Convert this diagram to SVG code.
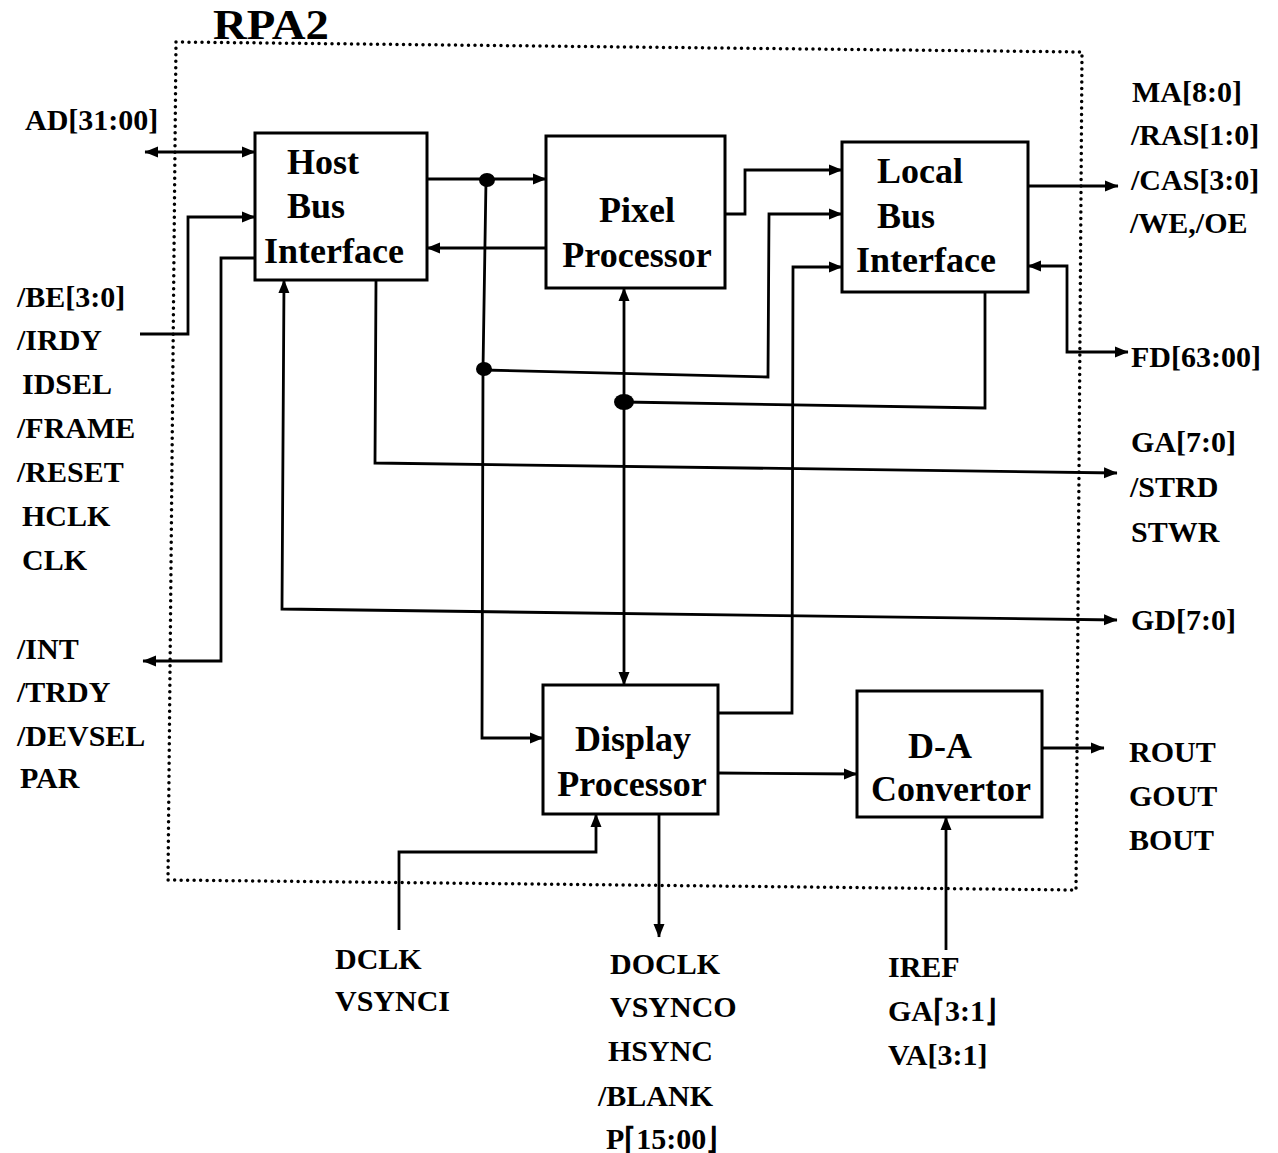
<svg xmlns="http://www.w3.org/2000/svg" width="1278" height="1153" viewBox="0 0 1278 1153">
<style>
text{font-family:"Liberation Serif","Times New Roman",serif;font-weight:bold;fill:#000}
.lbl{font-size:30px}
.box{fill:#fff;stroke:#000;stroke-width:3}
.bt{font-size:36px}
.w{fill:none;stroke:#000;stroke-width:2.8;stroke-linejoin:miter}
.dot{fill:#000}
</style>
<defs>
<marker id="ah" markerUnits="userSpaceOnUse" markerWidth="14" markerHeight="12" refX="13" refY="6" orient="auto-start-reverse" viewBox="0 0 14 12">
<path d="M0,0.5 L13.5,6 L0,11.5 z" fill="#000"/>
</marker>
</defs>
<rect width="1278" height="1153" fill="#fff"/>
<!-- chip boundary -->
<g id="boundary">
<polygon points="176,42 1082,52 1076,890 168,880" fill="none" stroke="#000" stroke-width="3.5" stroke-dasharray="0 6.5" stroke-linecap="round"/>
<text x="213" y="39" style="font-size:42px" textLength="116" lengthAdjust="spacingAndGlyphs">RPA2</text>
</g>
<!-- connectors -->
<g id="connectors">
<path class="w" d="M145,152 L255,152" marker-start="url(#ah)" marker-end="url(#ah)"/>
<path class="w" d="M140,334 L188,334 L188,217 L255,217" marker-end="url(#ah)"/>
<path class="w" d="M255,258 L221,258 L221,661 L143,661" marker-end="url(#ah)"/>
<path class="w" d="M427,179 L546,179" marker-end="url(#ah)"/>
<path class="w" d="M546,248 L427,248" marker-end="url(#ah)"/>
<path class="w" d="M486,180 L483,369 L482,738 L543,738" marker-end="url(#ah)"/>
<path class="w" d="M483,370 L768,377 L769,214 L842,214" marker-end="url(#ah)"/>
<path class="w" d="M725,214 L745,214 L745,170 L842,170" marker-end="url(#ah)"/>
<path class="w" d="M718,713 L792,713 L793,267 L842,267" marker-end="url(#ah)"/>
<path class="w" d="M985,292 L985,408 L624,402"/>
<path class="w" d="M624,288 L624,685" marker-start="url(#ah)" marker-end="url(#ah)"/>
<path class="w" d="M376,280 L375,463 L1117,473" marker-end="url(#ah)"/>
<path class="w" d="M284,280 L282,609 L1117,620" marker-start="url(#ah)" marker-end="url(#ah)"/>
<path class="w" d="M1028,186 L1118,186" marker-end="url(#ah)"/>
<path class="w" d="M1028,266 L1067,266 L1067,352 L1128,352" marker-start="url(#ah)" marker-end="url(#ah)"/>
<path class="w" d="M718,773 L857,774" marker-end="url(#ah)"/>
<path class="w" d="M1042,748 L1104,748" marker-end="url(#ah)"/>
<path class="w" d="M399,930 L399,852 L596,852 L596,814" marker-end="url(#ah)"/>
<path class="w" d="M659,814 L659,937" marker-end="url(#ah)"/>
<path class="w" d="M946,950 L946,817" marker-end="url(#ah)"/>
<ellipse class="dot" cx="487" cy="180" rx="8" ry="7"/>
<ellipse class="dot" cx="484" cy="369" rx="8" ry="7"/>
<ellipse class="dot" cx="624" cy="402" rx="10" ry="8"/>
</g>
<!-- nodes -->
<g id="host-bus-interface">
<rect class="box" x="255" y="133" width="172" height="147"/>
<text class="bt" x="287" y="174">Host</text>
<text class="bt" x="287" y="218">Bus</text>
<text class="bt" x="264" y="263">Interface</text>
</g>
<g id="pixel-processor">
<rect class="box" x="546" y="136" width="179" height="152"/>
<text class="bt" x="637" y="222" text-anchor="middle">Pixel</text>
<text class="bt" x="637" y="267" text-anchor="middle">Processor</text>
</g>
<g id="local-bus-interface">
<rect class="box" x="842" y="142" width="186" height="150"/>
<text class="bt" x="877" y="183">Local</text>
<text class="bt" x="877" y="228">Bus</text>
<text class="bt" x="856" y="272">Interface</text>
</g>
<g id="display-processor">
<rect class="box" x="543" y="685" width="175" height="129"/>
<text class="bt" x="633" y="751" text-anchor="middle">Display</text>
<text class="bt" x="632" y="796" text-anchor="middle">Processor</text>
</g>
<g id="da-convertor">
<rect class="box" x="857" y="691" width="185" height="126"/>
<text class="bt" x="940" y="758" text-anchor="middle">D-A</text>
<text class="bt" x="951" y="801" text-anchor="middle">Convertor</text>
</g>
<!-- pin labels -->
<g id="labels-left">
<text class="lbl" x="25" y="130">AD[31:00]</text>
<text class="lbl" x="17" y="307">/BE[3:0]</text>
<text class="lbl" x="17" y="350">/IRDY</text>
<text class="lbl" x="22" y="394">IDSEL</text>
<text class="lbl" x="17" y="438">/FRAME</text>
<text class="lbl" x="17" y="482">/RESET</text>
<text class="lbl" x="22" y="526">HCLK</text>
<text class="lbl" x="22" y="570">CLK</text>
<text class="lbl" x="17" y="659">/INT</text>
<text class="lbl" x="17" y="702">/TRDY</text>
<text class="lbl" x="17" y="746">/DEVSEL</text>
<text class="lbl" x="20" y="788">PAR</text>
</g>
<g id="labels-right">
<text class="lbl" x="1132" y="102">MA[8:0]</text>
<text class="lbl" x="1131" y="145">/RAS[1:0]</text>
<text class="lbl" x="1131" y="190">/CAS[3:0]</text>
<text class="lbl" x="1130" y="233">/WE,/OE</text>
<text class="lbl" x="1131" y="367">FD[63:00]</text>
<text class="lbl" x="1131" y="452">GA[7:0]</text>
<text class="lbl" x="1130" y="497">/STRD</text>
<text class="lbl" x="1131" y="542">STWR</text>
<text class="lbl" x="1131" y="630">GD[7:0]</text>
<text class="lbl" x="1129" y="762">ROUT</text>
<text class="lbl" x="1129" y="806">GOUT</text>
<text class="lbl" x="1129" y="850">BOUT</text>
</g>
<g id="labels-bottom">
<text class="lbl" x="335" y="969">DCLK</text>
<text class="lbl" x="335" y="1011">VSYNCI</text>
<text class="lbl" x="610" y="974">DOCLK</text>
<text class="lbl" x="610" y="1017">VSYNCO</text>
<text class="lbl" x="608" y="1061">HSYNC</text>
<text class="lbl" x="598" y="1106">/BLANK</text>
<text class="lbl" x="606" y="1149">P⌈15:00⌋</text>
<text class="lbl" x="888" y="977">IREF</text>
<text class="lbl" x="888" y="1021">GA⌈3:1⌋</text>
<text class="lbl" x="888" y="1065">VA[3:1]</text>
</g>
</svg>
